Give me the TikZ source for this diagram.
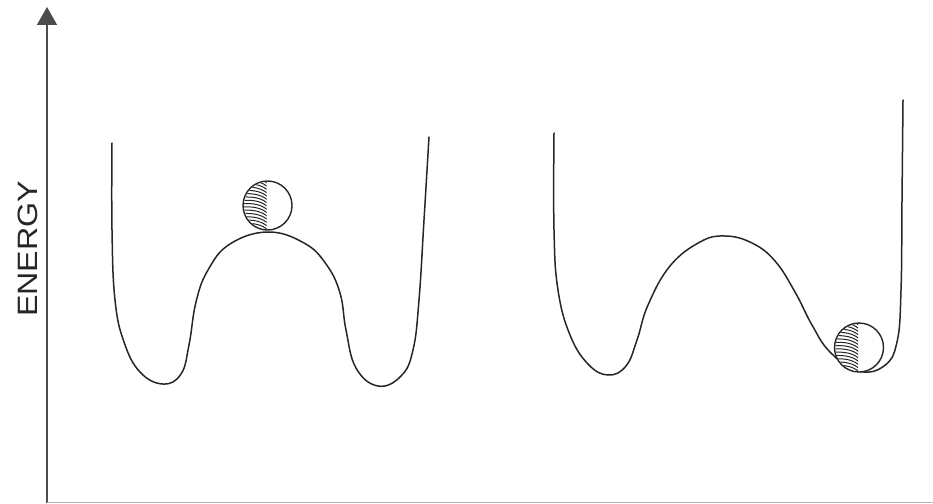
\documentclass[tikz,border=0pt]{standalone}
\usepackage{fontspec}
\setmainfont{Liberation Sans}
\usetikzlibrary{arrows.meta}
\tikzset{
  curve/.style={line width=1.5pt, black!85, line join=round, line cap=round},
  axisline/.style={line width=1.6pt, black!70},
  ballstyle/.style={circle, draw=black!85, line width=1.4pt, minimum size=49pt, inner sep=0pt, fill=white},
  hatch/.style={line width=1pt, black!85},
}
\begin{document}
\begin{tikzpicture}[x=1pt,y=-1pt]
\useasboundingbox (0,0) rectangle (933,503);
% axes
\coordinate (o) at (47,503);
\coordinate (top) at (47,7);
\coordinate (xend) at (933,502);
\draw[axisline, -{Triangle[width=20pt,length=18pt]}] (o) -- (top);
\draw[line width=1pt, black!30] (47,502) -- (xend);
\node[font=\fontsize{28}{30}\selectfont, rotate=90, xscale=1.15, black!85] (lab) at (28,249) {ENERGY};
% left double well
\draw[curve] plot[smooth, tension=0.7] coordinates {
 (112,143) (112,230) (115,300) (124,342) (140,372) (163,384)
 (181,374) (189,345) (196,302) (208,270) (230,244) (268,232) (304,243)
 (326,264) (340,293) (346,330) (356,368) (378,386) (401,376)
 (413,350) (419,300) (424,220) (429,137)};
% right asymmetric well
\draw[curve] plot[smooth, tension=0.7] coordinates {
 (554,133) (554,230) (558,290) (570,335) (588,364) (608,375)
 (626,366) (637,340) (648,305) (670,266) (700,242) (725,236) (752,243)
 (775,261) (795,292) (812,325) (830,352) (858,371) (884,366)
 (897,342) (901,290) (902,200) (903,100)};
% balls
\node[ballstyle] (b1) at (267.5,205.5) {};
\node[ballstyle] (b2) at (859,347.5) {};
\foreach \b in {b1,b2}{
  \begin{scope}
    \clip (\b.center) circle (23.5pt);
    \clip ([xshift=-30pt,yshift=-30pt]\b.center) rectangle ([xshift=-1pt,yshift=30pt]\b.center);
    \foreach \k in {-28,-24.7,...,30}{
      \draw[hatch] ([xshift=-26pt,yshift=\k pt]\b.center) .. controls ([xshift=-14pt,yshift=\k pt + 1pt]\b.center) and ([xshift=-5pt,yshift=\k pt - 1pt]\b.center) .. ([xshift=1pt,yshift=\k pt - 7pt]\b.center);
    }
  \end{scope}
}
\end{tikzpicture}
\end{document}
